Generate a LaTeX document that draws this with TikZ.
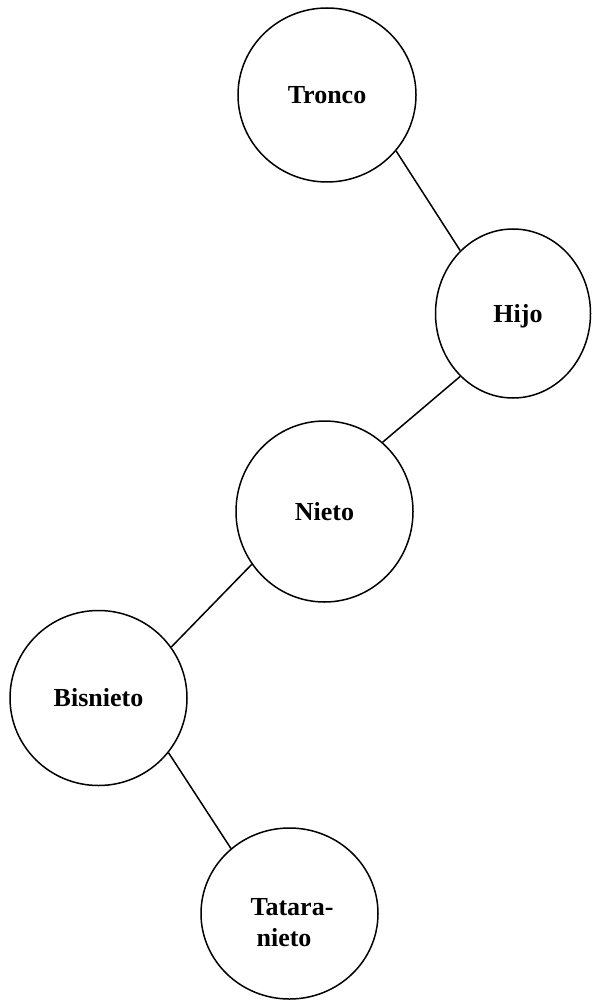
\documentclass[tikz,border=0pt]{standalone}
\usepackage{fontspec}
\setmainfont{Liberation Serif}
\usetikzlibrary{shapes.geometric}
\begin{document}
\begin{tikzpicture}[x=1pt,y=-1pt,
  bubble/.style={draw=black, line width=1.5pt, ellipse, inner sep=0pt,
    font=\fontsize{26}{31}\selectfont\bfseries},
  lbl/.style={inner sep=0pt, font=\fontsize{26}{31}\selectfont\bfseries},
  link/.style={draw=black, line width=1.5pt}]
\useasboundingbox (0,0) rectangle (592,1000);
\node[bubble, minimum width=178pt, minimum height=174pt] (tronco) at (327,95) {Tronco};
\node[bubble, minimum width=155pt, minimum height=169pt] (hijo) at (513,313.5) {};
\node[lbl] (hijotxt) at (518,316) {Hijo};
\node[bubble, minimum width=177pt, minimum height=181pt] (nieto) at (324.5,511.5) {Nieto};
\node[bubble, minimum width=177pt, minimum height=175pt] (bisnieto) at (98.5,698) {Bisnieto};
\node[bubble, minimum width=177pt, minimum height=171pt] (tatara) at (289.5,913.5) {};
\node[lbl, align=left] (tataratxt) at (292,923) {Tatara-\\\hspace{6pt}nieto};
\draw[link] (tronco.-39) -- (hijo.130);
\draw[link] (hijo.-130) -- (nieto.50);
\draw[link] (nieto.216) -- (bisnieto.35);
\draw[link] (bisnieto.-38.5) -- (tatara.132.6);
\end{tikzpicture}
\end{document}
